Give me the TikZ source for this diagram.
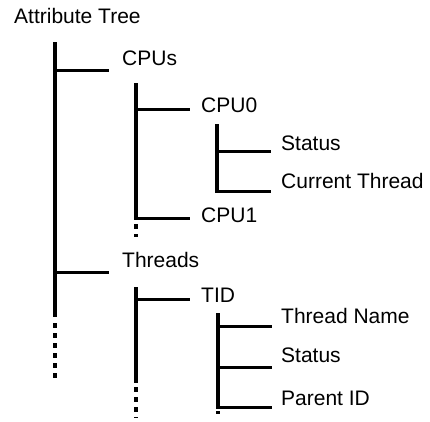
\documentclass[tikz,border=0pt]{standalone}
\usepackage{fontspec}
\setmainfont{Liberation Sans}
\begin{document}
\begin{tikzpicture}[x=1bp,y=-1bp,
  lbl/.style={anchor=base west,inner sep=0pt,font=\fontsize{21bp}{25bp}\selectfont},
  treeline/.style={line width=3bp,line cap=butt},
  trunk/.style={line width=4bp,line cap=butt},
  moreline/.style={line width=4bp,dash pattern=on 5bp off 5bp}]
\useasboundingbox (0,0) rectangle (430,422);
% labels
\node[lbl] (title) at (14,23) {Attribute Tree};
\node[lbl] (cpus) at (122,65) {CPUs};
\node[lbl] (cpu0) at (201,112) {CPU0};
\node[lbl] (st1) at (281,150) {Status};
\node[lbl] (cur) at (281,188) {Current Thread};
\node[lbl] (cpu1) at (201,222) {CPU1};
\node[lbl] (threads) at (122,267) {Threads};
\node[lbl] (tid) at (201,302) {TID};
\node[lbl] (tname) at (281,323) {Thread Name};
\node[lbl] (st2) at (281,362) {Status};
\node[lbl] (pid) at (281,405) {Parent ID};
% branch ends
\coordinate (cpus-e) at (109,70.5);
\coordinate (threads-e) at (109,272.5);
\coordinate (cpu0-e) at (190,109.5);
\coordinate (cpu1-e) at (190,218.5);
\coordinate (st1-e) at (271,151.5);
\coordinate (cur-e) at (271,191.5);
\coordinate (tid-e) at (190,299.5);
\coordinate (tname-e) at (272,326.5);
\coordinate (st2-e) at (272,367.5);
\coordinate (pid-e) at (272,407.5);
% trunks and branch starts
\coordinate (t1) at (55,42);   \coordinate (t1s) at (55,317); \coordinate (t1d) at (55,323); \coordinate (t1z) at (55,380);
\coordinate (b1a) at (55,70.5); \coordinate (b1b) at (55,272.5);
\coordinate (t2) at (136,83);  \coordinate (t2s) at (136,220); \coordinate (t2d) at (136,224); \coordinate (t2z) at (136,237);
\coordinate (b2a) at (136,109.5); \coordinate (b2b) at (136,218.5);
\coordinate (t3) at (217,124); \coordinate (t3s) at (217,193);
\coordinate (b3a) at (217,151.5); \coordinate (b3b) at (217,191.5);
\coordinate (t4) at (136,287); \coordinate (t4s) at (136,383); \coordinate (t4d) at (136,387); \coordinate (t4z) at (136,418);
\coordinate (b4a) at (136,299.5);
\coordinate (t5) at (218,313); \coordinate (t5s) at (218,409); \coordinate (t5d) at (218,411); \coordinate (t5z) at (218,414);
\coordinate (b5a) at (218,326.5); \coordinate (b5b) at (218,367.5); \coordinate (b5c) at (218,407.5);
% connectors
\draw[trunk] (t1) -- (t1s);
\draw[treeline] (b1a) -- (cpus-e);
\draw[treeline] (b1b) -- (threads-e);
\draw[moreline] (t1d) -- (t1z);
\draw[trunk] (t2) -- (t2s);
\draw[treeline] (b2a) -- (cpu0-e);
\draw[treeline] (b2b) -- (cpu1-e);
\draw[moreline] (t2d) -- (t2z);
\draw[trunk] (t3) -- (t3s);
\draw[treeline] (b3a) -- (st1-e);
\draw[treeline] (b3b) -- (cur-e);
\draw[trunk] (t4) -- (t4s);
\draw[treeline] (b4a) -- (tid-e);
\draw[moreline] (t4d) -- (t4z);
\draw[trunk] (t5) -- (t5s);
\draw[treeline] (b5a) -- (tname-e);
\draw[treeline] (b5b) -- (st2-e);
\draw[treeline] (b5c) -- (pid-e);
\draw[moreline] (t5d) -- (t5z);
\end{tikzpicture}
\end{document}
